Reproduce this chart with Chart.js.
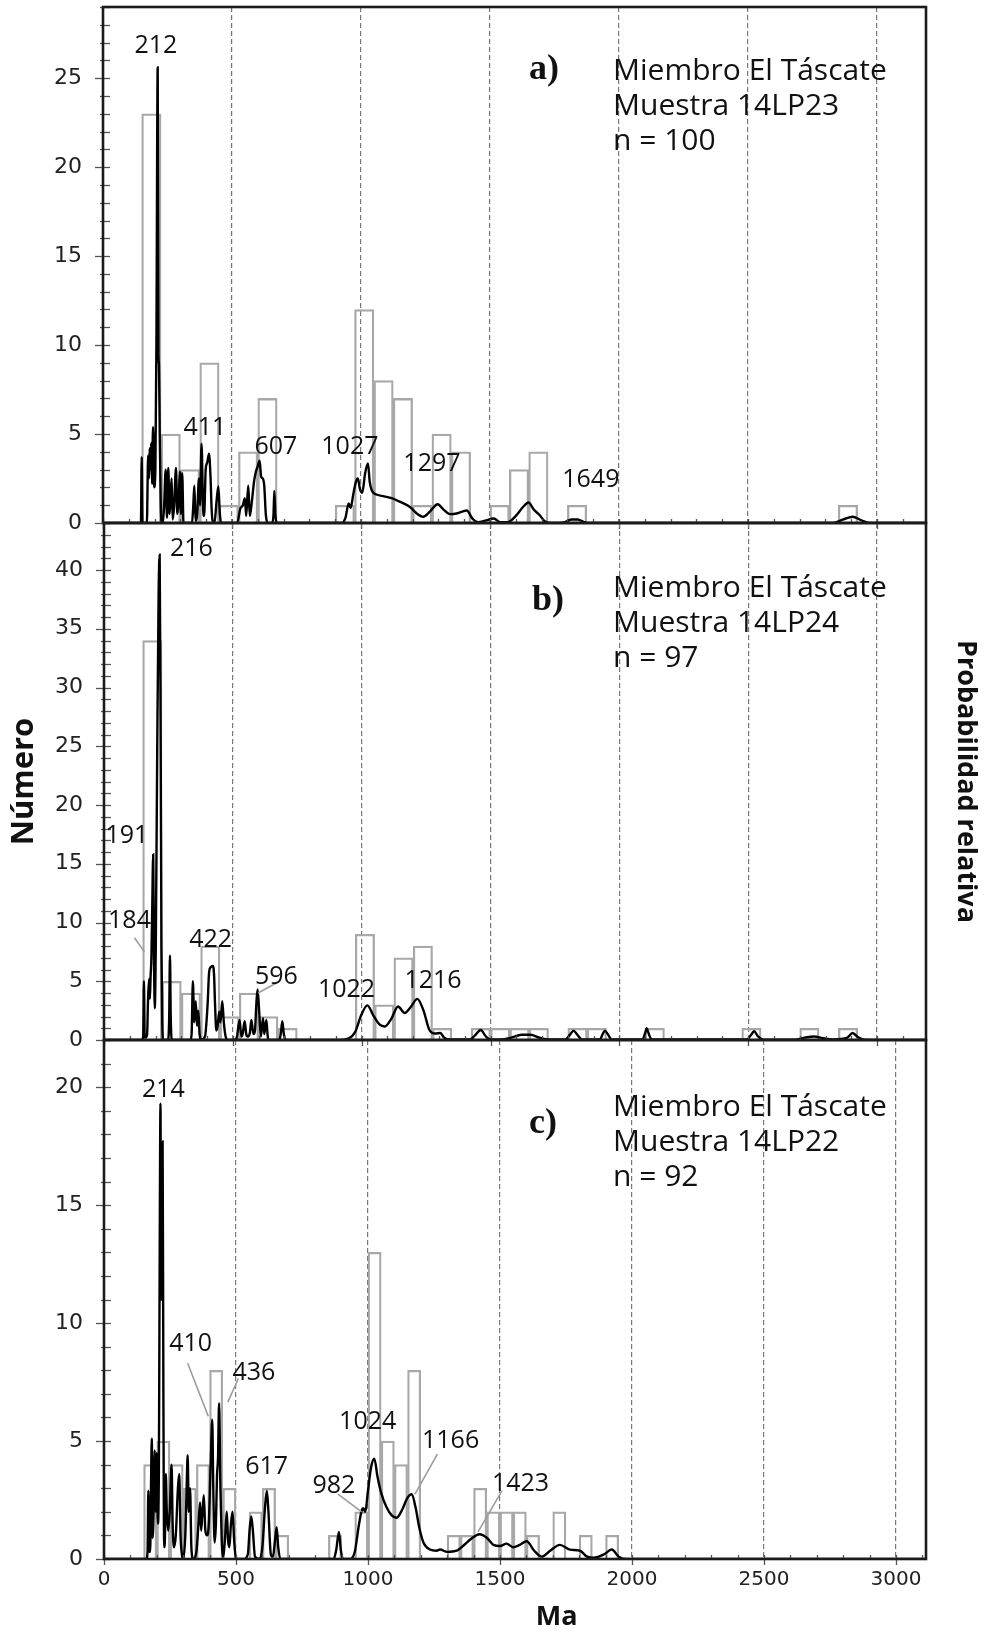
<!DOCTYPE html>
<html>
<head>
<meta charset="utf-8">
<script src="https://cdn.jsdelivr.net/npm/chart.js@4.4.1/dist/chart.umd.min.js"></script>
<style>
  html, body { margin: 0; padding: 0; background: #fff; }
  #wrap { position: relative; width: 987px; height: 1631px; }
  #wrap canvas { position: absolute; left: 0; top: 0; }
</style>
</head>
<body>
<div id="wrap">
  <canvas id="panel-a" width="987" height="1631"></canvas>
  <canvas id="panel-b" width="987" height="1631"></canvas>
  <canvas id="panel-c" width="987" height="1631"></canvas>
</div>
<script>
// ---- Histogram bins (Ma) and counts --------------------------------------
const A_BIN_WIDTH = 75;
const A_BIN_START = [150, 225, 300, 375, 450, 525, 600, 900, 975, 1050, 1125, 1200, 1275, 1350, 1500, 1575, 1650, 1800, 2850];
const A_COUNTS    = [23, 5, 3, 9, 1, 4, 7, 1, 12, 8, 7, 1, 5, 4, 1, 3, 4, 1, 1];

const B_BIN_WIDTH = 75;
const B_BIN_START = [150, 225, 300, 375, 450, 525, 600, 675, 975, 1050, 1125, 1200, 1275, 1425, 1500, 1575, 1650, 1800, 1875, 2100, 2475, 2700, 2850];
const B_COUNTS    = [34, 5, 4, 8, 2, 4, 2, 1, 9, 3, 7, 8, 1, 1, 1, 1, 1, 1, 1, 1, 1, 1, 1];

const C_BIN_WIDTH = 50;
const C_BIN_START = [150, 200, 250, 300, 350, 400, 450, 550, 600, 650, 850, 950, 1000, 1050, 1100, 1150, 1300, 1350, 1400, 1450, 1500, 1550, 1600, 1700, 1800, 1900];
const C_COUNTS    = [4, 5, 4, 3, 4, 8, 3, 2, 3, 1, 1, 2, 13, 5, 4, 8, 1, 1, 3, 2, 2, 2, 1, 2, 1, 1];

// ---- Relative probability curves: [Ma, height on the count axis] ----------
const A_CURVE = [
  [0,0],[140,0],[147,0],[150,3.7],[153,0],[170,0],[175,3.8],[178,2.5],[181,4.2],[184,3.0],[187,4.5],[190,2.2],[194,5.4],[198,2.0],[203,3],[207,10],[212,25.6],[215,9.5],[217,8.9],[220,5],[224,1],[228,0],
  [232,0],[237,1],[243,3.0],[248,0.3],[253,3.1],[258,0.5],[262,1.5],[266,2.5],[270,0.2],[276,1],[283,3.1],[288,0.5],[293,1.2],[298,2.9],[302,0.5],[307,2.8],[312,0],
  [345,0],[350,1],[354,2.1],[359,0.1],[365,0.5],[372,2.5],[376,1],[382,4.45],[388,0.8],[392,0.4],[398,3],[404,3.4],[411,3.9],[417,2.5],[421,0.8],[425,0.1],[432,0],[440,1.2],[447,2.05],[453,0.5],[458,0],
  [520,0],[532,0.8],[542,1.0],[550,1.4],[555,0.4],[563,2.1],[569,0.4],[577,1.2],[586,2.4],[593,2.9],[600,3.2],[607,3.5],[613,2.6],[619,2.5],[625,2.1],[631,0.5],[638,0],[656,0],[661,0.5],[664,1.8],[668,0.5],[673,0],
  [925,0],[940,0.3],[952,1.1],[960,0.85],[970,1.6],[980,2.3],[988,2.5],[996,1.9],[1005,1.7],[1016,2.8],[1027,3.35],[1034,2.3],[1043,1.8],[1060,1.6],[1090,1.5],[1119,1.4],[1150,1.2],[1190,0.9],[1215,0.55],[1241,0.35],[1268,0.65],[1297,1.05],[1320,0.75],[1345,0.5],[1375,0.55],[1410,0.7],[1432,0.25],[1454,0.05],[1485,0.15],[1515,0.25],[1540,0.05],[1570,0.05],[1600,0.4],[1628,0.9],[1649,1.15],[1670,0.75],[1692,0.45],[1712,0.1],[1740,0],[1790,0.05],[1815,0.2],[1840,0.2],[1865,0.05],[1890,0],
  [2830,0],[2870,0.2],[2905,0.35],[2940,0.15],[2975,0],[3190,0]
];

const B_CURVE = [
  [0,0],[148,0],[152,0.3],[155,5.0],[158,0.2],[167,0.4],[171,3.5],[175,5.2],[178,3.5],[181,5.5],[184,7.0],[187,11],[191,15.8],[194,7],[197,2.7],[201,8],[207,26],[212,38],[216,41.3],[220,25],[223,8],[226,1.5],[230,0],
  [249,0],[253,2],[256,7.2],[259,2],[263,0],
  [335,0],[340,0.5],[345,5.0],[350,1.5],[356,3.3],[361,1.2],[366,2.5],[371,0.5],[378,0],[392,0.3],[402,3],[408,5.8],[414,6.2],[422,6.3],[427,5.6],[431,3],[436,0.8],[441,1.2],[447,2.4],[452,1.5],[459,3.3],[465,1.5],[472,0.3],[481,0],
  [505,0],[515,0.2],[526,1.7],[533,0.3],[538,0.5],[546,1.6],[552,0.5],[558,0.3],[566,0.6],[572,1.7],[580,0.5],[586,0.8],[591,3],[596,4.3],[602,2.5],[609,0.3],[617,1.85],[622,0.5],[630,1.7],[636,0.2],[642,0],[680,0],[686,0.5],[692,1.6],[698,0.5],[705,0],
  [900,0],[950,0.15],[975,0.7],[998,2.1],[1022,2.95],[1045,2.1],[1070,1.3],[1090,1.15],[1115,1.8],[1141,2.85],[1167,2.3],[1190,2.8],[1216,3.5],[1240,2.5],[1262,0.9],[1285,0.55],[1305,0.6],[1320,0.2],[1345,0.05],
  [1420,0.05],[1440,0.4],[1462,0.85],[1482,0.3],[1500,0.05],[1540,0.05],[1580,0.2],[1620,0.45],[1655,0.45],[1690,0.2],[1730,0.05],[1790,0.05],[1810,0.5],[1822,0.8],[1835,0.5],[1855,0.05],[1925,0.05],[1935,0.5],[1944,0.8],[1955,0.5],[1970,0.05],
  [2090,0.05],[2100,0.6],[2106,1.0],[2113,0.6],[2125,0.05],[2495,0.05],[2510,0.4],[2523,0.75],[2538,0.3],[2560,0.03],[2680,0.03],[2720,0.2],[2755,0.3],[2790,0.15],[2830,0.05],[2885,0.2],[2905,0.6],[2925,0.25],[2950,0.03],[3190,0]
];

const C_CURVE = [
  [0,0],[160,0],[165,0.3],[168,2.9],[171,0.3],[175,0.3],[178,3],[181,5.1],[184,0.9],[188,2],[192,4.6],[196,2],[200,4.5],[204,1.5],[208,4],[211,13],[214,19.3],[216,11],[219,15],[222,17.7],[225,7],[228,0.5],[231,1],[234,3.6],[238,2],[243,1.2],[249,2],[256,4.0],[260,1.5],[265,0.5],[272,1],[280,3],[285,3.6],[290,1],[295,0.2],[300,0],
  [308,1],[313,3],[317,4.4],[321,2],[326,3.0],[331,0.5],[338,0],[350,0.3],[358,1.5],[364,2.4],[368,1.2],[372,1.8],[378,2.7],[384,1.2],[390,1.0],[397,1.5],[404,4],[410,5.9],[414,3],[419,0.7],[424,1.5],[428,3.5],[432,4.3],[436,6.6],[441,3],[446,0.8],[452,0.1],[458,0.8],[465,2.0],[470,0.8],[475,0.5],[481,1.5],[487,2.0],[493,0.8],[500,0],
  [530,0],[545,0.2],[552,1.3],[558,1.8],[564,1.2],[572,0.1],[590,0],[600,0.5],[610,2.2],[617,2.9],[623,2],[632,0.2],[640,0.1],[648,0.8],[654,1.35],[660,0.5],[668,0],
  [870,0],[880,0.4],[890,1.15],[897,0.4],[905,0],[930,0],[950,0.3],[965,1.4],[975,2.0],[982,2.15],[990,2.0],[1000,2.9],[1012,3.9],[1024,4.25],[1036,3.5],[1050,2.8],[1070,2.2],[1090,1.85],[1109,1.75],[1130,2.1],[1150,2.6],[1166,2.75],[1180,2.2],[1195,1.3],[1210,0.7],[1235,0.4],[1260,0.35],[1273,0.4],[1300,0.3],[1336,0.35],[1360,0.55],[1390,0.85],[1423,1.05],[1450,0.9],[1475,0.6],[1500,0.55],[1525,0.65],[1550,0.5],[1575,0.6],[1601,0.75],[1630,0.35],[1658,0.1],[1690,0.35],[1727,0.6],[1765,0.4],[1803,0.35],[1830,0.1],[1854,0.05],[1895,0.2],[1923,0.4],[1950,0.1],[1980,0],[3114,0]
];

// ---- Peak ages written beside the curves ----------------------------------
const A_PEAKS = [212, 411, 607, 1027, 1297, 1649];
const B_PEAKS = [216, 191, 184, 422, 596, 1022, 1216];
const C_PEAKS = [214, 410, 436, 617, 982, 1024, 1166, 1423];

// ---- Axis ticks -------------------------------------------------------------
const X_TICK_VALUES = [0, 500, 1000, 1500, 2000, 2500, 3000];
const A_Y_TICK_VALUES = [0, 5, 10, 15, 20, 25];
const B_Y_TICK_VALUES = [0, 5, 10, 15, 20, 25, 30, 35, 40];
const C_Y_TICK_VALUES = [0, 5, 10, 15, 20];

// where each peak label sits, in (Ma, count) so it follows the scales
const A_PEAK_LABEL_AT = [[205, 26.8], [395, 5.35], [670, 4.3], [957, 4.3], [1275, 3.3], [1891, 2.4]];
const B_PEAK_LABEL_AT = [[339, 41.8], [89, 17.4], [99, 10.1], [414, 8.5], [669, 5.4], [941, 4.3], [1277, 5.0]];
const C_PEAK_LABEL_AT = [[225, 19.9], [328, 9.1], [568, 7.9], [616, 3.9], [871, 3.1], [999, 5.8], [1313, 5.0], [1578, 3.2]];

// leader lines from a label to its peak: [Ma0, y0, Ma1, y1]
const B_LEADERS = [[118, 8.7, 157, 7.5], [669, 4.85, 598, 4.0]];
const C_LEADERS = [[317, 8.3, 395, 6.05], [509, 7.65, 469, 6.65], [886, 2.75, 976, 2.0], [1263, 4.45, 1178, 2.75], [1508, 2.9, 1417, 1.15]];

const TEXT_FONT = '"Open Sans", "DejaVu Sans", sans-serif';
const Y_TICK_FONT = { family: '"DejaVu Sans", sans-serif', size: 22 };
const X_TICK_FONT = { family: '"DejaVu Sans", sans-serif', size: 20 };

// frame, axis ticks, labels and the sample caption for one panel
function panelDecor(cfg) {
  return {
    id: 'panelDecor',
    afterDatasetsDraw(chart) {
      const { ctx, chartArea: ca } = chart;
      const x = chart.scales.x, y = chart.scales.y;
      ctx.save();

      // minor / major ticks crossing the left axis
      ctx.strokeStyle = '#555';
      ctx.lineWidth = 1.3;
      for (let v = 0; v <= y.max; v += 1) {
        const py = Math.round(y.getPixelForValue(v)) + 0.5;
        const major = v % 5 === 0;
        ctx.beginPath();
        ctx.moveTo(ca.left - (major ? 8 : 3), py);
        ctx.lineTo(ca.left + 7, py);
        ctx.stroke();
      }
      // ticks along the bottom axis every 100 Ma
      for (let m = 0; m <= x.max; m += 100) {
        const px = Math.round(x.getPixelForValue(m)) + 0.5;
        const major = m % 500 === 0;
        ctx.beginPath();
        ctx.moveTo(px, ca.bottom - 4);
        ctx.lineTo(px, ca.bottom + (major ? 6 : 0));
        ctx.stroke();
      }

      // panel frame
      ctx.strokeStyle = '#1b1b1b';
      ctx.lineWidth = 2.6;
      ctx.strokeRect(ca.left, ca.top, ca.width, ca.height);

      // leader lines
      ctx.strokeStyle = '#9c9c9c';
      ctx.lineWidth = 1.6;
      (cfg.leaders || []).forEach(([m0, v0, m1, v1]) => {
        ctx.beginPath();
        ctx.moveTo(x.getPixelForValue(m0), y.getPixelForValue(v0));
        ctx.lineTo(x.getPixelForValue(m1), y.getPixelForValue(v1));
        ctx.stroke();
      });

      // peak ages
      ctx.fillStyle = '#111';
      ctx.font = '25px ' + TEXT_FONT;
      ctx.textAlign = 'center';
      ctx.textBaseline = 'middle';
      cfg.peaks.forEach((age, i) => {
        const [m, v] = cfg.peakAt[i];
        ctx.fillText(String(age), x.getPixelForValue(m), y.getPixelForValue(v));
      });

      // panel letter and sample caption
      ctx.textAlign = 'left';
      ctx.textBaseline = 'alphabetic';
      ctx.font = 'bold 36px "Liberation Serif", "Times New Roman", serif';
      ctx.fillText(cfg.letter, ca.left + cfg.letterDx, ca.top + cfg.letterDy);
      ctx.font = '30px ' + TEXT_FONT;
      cfg.caption.forEach((line, i) => {
        ctx.fillText(line, ca.left + cfg.captionDx, ca.top + cfg.captionDy[i]);
      });

      // x axis name under the bottom panel
      if (cfg.xName) {
        ctx.font = 'bold 27px ' + TEXT_FONT;
        ctx.textAlign = 'center';
        ctx.textBaseline = 'middle';
        ctx.fillText(cfg.xName.text, x.getPixelForValue(cfg.xName.at), ca.bottom + cfg.xName.dy);
      }
      ctx.restore();
    }
  };
}

// axes keep exactly the size given; no extra room for overhanging labels
function fixSize(width, height) {
  return (s) => {
    if (width !== null) s.width = width;
    if (height !== null) s.height = height;
    s.paddingTop = 0; s.paddingBottom = 0;
    s.paddingLeft = 0; s.paddingRight = 0;
  };
}

function makePanel(id, p) {
  const bars = p.binStart.map((s, i) => ({ x: s + p.binWidth / 2, y: p.counts[i] }));
  const curve = p.curve.map(([m, v]) => ({ x: m, y: v }));

  const scales = {
    x: {
      type: 'linear', min: 0, max: p.xMax, offset: false,
      afterBuildTicks: (s) => { s.ticks = X_TICK_VALUES.map((value) => ({ value })); },
      ticks: {
        display: p.showXTicks, padding: 9, color: '#222', font: X_TICK_FONT,
        callback: (v) => String(v)
      },
      grid: {
        display: true, drawTicks: false, offset: false, lineWidth: 1.2,
        color: (c) => (c.tick && c.tick.value > 0) ? '#777' : 'rgba(0,0,0,0)'
      },
      border: { display: false, dash: [5, 3] },
      afterFit: fixSize(null, p.xHeight)
    },
    y: {
      type: 'linear', position: 'left', min: 0, max: p.yMax,
      afterBuildTicks: (s) => { s.ticks = p.yTicks.map((value) => ({ value })); },
      ticks: { padding: 21, color: '#222', font: Y_TICK_FONT },
      grid: { display: false, drawTicks: false },
      border: { display: false },
      title: p.yTitle
        ? { display: true, text: p.yTitle, color: '#111', padding: { top: 6, bottom: 0 },
            font: { family: TEXT_FONT, size: 31, weight: 'bold' } }
        : { display: false },
      afterFit: fixSize(p.yWidth, null)
    }
  };
  if (p.rightTitle) {
    scales.y2 = {
      type: 'linear', position: 'right', min: 0, max: 1,
      ticks: { display: false },
      grid: { display: false, drawTicks: false },
      border: { display: false },
      title: { display: true, text: p.rightTitle, color: '#111', padding: { top: 5, bottom: 0 },
               font: { family: TEXT_FONT, size: 27, weight: 'bold' } },
      afterFit: fixSize(61, null)
    };
  }

  return new Chart(document.getElementById(id), {
    type: 'line',
    data: {
      datasets: [
        {
          type: 'line', data: curve, order: 0,
          borderColor: '#000', borderWidth: 2.4, pointRadius: 0,
          cubicInterpolationMode: 'monotone', fill: false
        },
        {
          type: 'bar', data: bars, order: 1,
          backgroundColor: 'rgba(0,0,0,0)', borderColor: '#a8a8a8', borderWidth: 1.6,
          borderSkipped: 'start', barPercentage: 1, categoryPercentage: 1
        }
      ]
    },
    options: {
      responsive: false,
      animation: false,
      events: [],
      layout: { padding: p.padding, autoPadding: false },
      plugins: { legend: { display: false }, tooltip: { enabled: false } },
      scales
    },
    plugins: [panelDecor(p.decor)]
  });
}

makePanel('panel-a', {
  binStart: A_BIN_START, counts: A_COUNTS, binWidth: A_BIN_WIDTH, curve: A_CURVE,
  xMax: 3190, yMax: 29, yTicks: A_Y_TICK_VALUES, yWidth: 103, xHeight: 0, showXTicks: false,
  padding: { left: 0, right: 61, top: 7, bottom: 1108 },
  decor: {
    peaks: A_PEAKS, peakAt: A_PEAK_LABEL_AT, leaders: [],
    letter: 'a)', letterDx: 426, letterDy: 72,
    caption: ['Miembro El Táscate', 'Muestra 14LP23', 'n = 100'],
    captionDx: 510, captionDy: [73, 108, 143]
  }
});

makePanel('panel-b', {
  binStart: B_BIN_START, counts: B_COUNTS, binWidth: B_BIN_WIDTH, curve: B_CURVE,
  xMax: 3190, yMax: 44, yTicks: B_Y_TICK_VALUES, yWidth: 104, xHeight: 0, showXTicks: false,
  yTitle: 'Número', rightTitle: 'Probabilidad relativa',
  padding: { left: 0, right: 0, top: 523, bottom: 591 },
  decor: {
    peaks: B_PEAKS, peakAt: B_PEAK_LABEL_AT, leaders: B_LEADERS,
    letter: 'b)', letterDx: 428, letterDy: 87,
    caption: ['Miembro El Táscate', 'Muestra 14LP24', 'n = 97'],
    captionDx: 509, captionDy: [74, 109, 144]
  }
});

makePanel('panel-c', {
  binStart: C_BIN_START, counts: C_COUNTS, binWidth: C_BIN_WIDTH, curve: C_CURVE,
  xMax: 3114, yMax: 22, yTicks: C_Y_TICK_VALUES, yWidth: 104, xHeight: 72, showXTicks: true,
  padding: { left: 0, right: 61, top: 1040, bottom: 0 },
  decor: {
    peaks: C_PEAKS, peakAt: C_PEAK_LABEL_AT, leaders: C_LEADERS,
    letter: 'c)', letterDx: 425, letterDy: 93,
    caption: ['Miembro El Táscate', 'Muestra 14LP22', 'n = 92'],
    captionDx: 509, captionDy: [76, 111, 146],
    xName: { text: 'Ma', at: 1715, dy: 58 }
  }
});
</script>
</body>
</html>
